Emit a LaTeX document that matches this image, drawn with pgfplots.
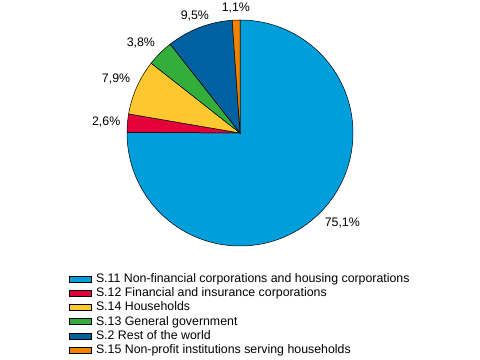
\documentclass[border=0pt]{standalone}
\usepackage{pgfplots}
\pgfplotsset{compat=1.18}
\usepackage{fontspec}
\setmainfont{Liberation Sans}
\usetikzlibrary{calc}
\definecolor{s11}{RGB}{0,158,219}
\definecolor{s12}{RGB}{228,0,58}
\definecolor{s14}{RGB}{255,200,46}
\definecolor{s13}{RGB}{51,174,58}
\definecolor{s2}{RGB}{0,97,160}
\definecolor{s15}{RGB}{239,131,0}
\begin{document}
\begin{tikzpicture}
\path[use as bounding box] (0,0) rectangle (480bp,360bp);
\begin{axis}[
  at={(240bp,227bp)}, anchor=origin,
  hide axis, scale only axis, width=226bp, height=226bp,
  xmin=-1, xmax=1, ymin=-1, ymax=1,
  legend style={at={(axis description cs:-0.2566,-0.1150)}, anchor=north west,
    draw=none, fill=none, inner sep=0pt, outer sep=0pt,
    font=\fontsize{12.4}{14}\selectfont, row sep=0pt, column sep=4bp,
    nodes={inner sep=0.5bp, text height=10bp, text depth=3.2bp}},
  legend cell align=left,
  legend image code/.code={\draw[#1, line width=0.5bp] (0bp,-3bp) rectangle (22bp,3bp);},
]
\addlegendimage{fill=s11, draw=black}
\addlegendentry{S.11 Non-financial corporations and housing corporations}
\addlegendimage{fill=s12, draw=black}
\addlegendentry{S.12 Financial and insurance corporations}
\addlegendimage{fill=s14, draw=black}
\addlegendentry{S.14 Households}
\addlegendimage{fill=s13, draw=black}
\addlegendentry{S.13 General government}
\addlegendimage{fill=s2, draw=black}
\addlegendentry{S.2 Rest of the world}
\addlegendimage{fill=s15, draw=black}
\addlegendentry{S.15 Non-profit institutions serving households}
\coordinate (O) at (axis cs:0,0);
\end{axis}
\def\cum{0}
\foreach \v/\c/\l/\an in {75.1/s11/{75,1\%}/north west, 2.6/s12/{2,6\%}/east, 7.9/s14/{7,9\%}/south east, 3.8/s13/{3,8\%}/south east, 9.5/s2/{9,5\%}/291, 1.1/s15/{1,1\%}/south} {
  \pgfmathsetmacro\a{90-3.6*\cum}
  \pgfmathsetmacro\b{90-3.6*(\cum+\v)}
  \pgfmathsetmacro\m{(\a+\b)/2}
  \fill[\c, draw=black, line width=0.5bp] (O) -- ++(\a:113bp) arc[start angle=\a, end angle=\b, radius=113bp] -- cycle;
  \node[font=\fontsize{12.4}{14}\selectfont, inner sep=0pt, anchor=\an] at ($(O)+(\m:120bp)$) {\l};
  \pgfmathsetmacro\newcum{\cum+\v}\global\let\cum\newcum
}
\end{tikzpicture}
\end{document}
